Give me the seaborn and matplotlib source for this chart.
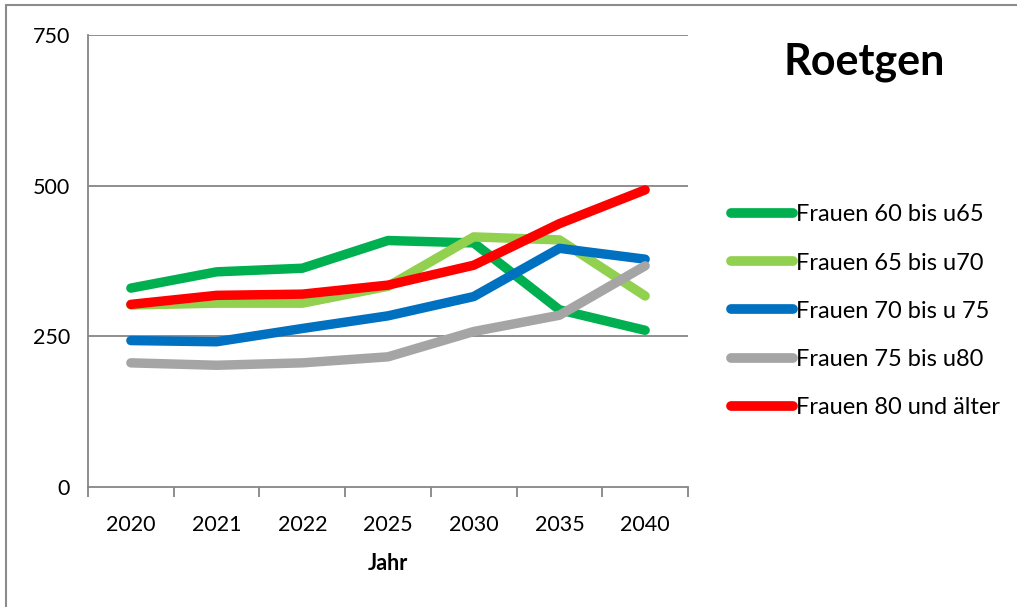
import matplotlib
matplotlib.use("Agg")
import matplotlib.pyplot as plt
import seaborn as sns
import pandas as pd
import numpy as np
from matplotlib.patches import Rectangle

years = ["2020", "2021", "2022", "2025", "2030", "2035", "2040"]
series_names = [
    "Frauen 60 bis u65",
    "Frauen 65 bis u70",
    "Frauen 70 bis u 75",
    "Frauen 75 bis u80",
    "Frauen 80 und älter",
]
f60 = [330, 357, 363, 409, 405, 294, 260]
f65 = [302, 305, 305, 333, 415, 410, 317]
f70 = [243, 241, 263, 284, 316, 396, 378]
f75 = [206, 202, 206, 216, 258, 285, 367]
f80 = [303, 318, 320, 335, 368, 437, 493]
colors = ["#00B050", "#92D050", "#0070C0", "#A5A5A5", "#FF0000"]
yticks = [0, 250, 500, 750]

rows = []
for name, vals in zip(series_names, [f60, f65, f70, f75, f80]):
    for i, v in enumerate(vals):
        rows.append({"pos": i, "Jahr": years[i], "Anzahl": v, "Gruppe": name})
df = pd.DataFrame(rows)

sns.set_theme(style="white")
plt.rcParams["font.family"] = ["Lato", "DejaVu Sans"]
plt.rcParams["text.color"] = "black"
plt.rcParams["xtick.color"] = "black"
plt.rcParams["ytick.color"] = "black"
plt.rcParams["axes.labelcolor"] = "black"

fig = plt.figure(figsize=(10.17, 6.07), dpi=100)
ax = fig.add_axes([88 / 1017, 1 - 487 / 607, 600 / 1017, 452 / 607])

# outer chart frame
fig.patches.append(Rectangle((6 / 1017, -0.05), 1.2, (607 - 5) / 607 + 0.05,
                             transform=fig.transFigure, fill=False,
                             edgecolor="#8C8C8C", linewidth=1.5, zorder=0))

grid_c = "#868686"
for t in yticks[1:]:
    ax.axhline(t, color=grid_c, linewidth=1.3, zorder=1)

sns.lineplot(data=df, x="pos", y="Anzahl", hue="Gruppe", hue_order=series_names,
             palette=colors, linewidth=6.8, ax=ax, sort=False, legend=True,
             solid_capstyle="round", solid_joinstyle="round", zorder=3)

ax.set_xlim(-0.5, 6.5)
ax.set_ylim(0, 750)
ax.set_yticks(yticks)
ax.set_yticklabels([str(t) for t in yticks], fontsize=15.5)
ax.set_xticks(range(len(years)))
ax.set_xticklabels(years, fontsize=15.5)
ax.tick_params(axis="x", which="major", length=0, pad=20)
ax.tick_params(axis="y", which="major", length=0, pad=13)
# category boundary ticks
ax.set_xticks(np.arange(-0.5, 7.0, 1.0), minor=True)
ax.tick_params(axis="x", which="minor", bottom=True, length=7, width=1.3,
               color=grid_c, direction="out")
ax.set_yticks(yticks, minor=True)
ax.tick_params(axis="y", which="minor", left=True, length=8, width=1.3,
               color=grid_c, direction="out")

for s in ["top", "right"]:
    ax.spines[s].set_visible(False)
for s in ["left", "bottom"]:
    ax.spines[s].set_color(grid_c)
    ax.spines[s].set_linewidth(1.3)

ax.set_xlabel("Jahr", fontsize=15.5, fontweight="bold", labelpad=13)
ax.set_ylabel("")

leg = ax.legend(loc="upper left", bbox_to_anchor=(722 / 1017, 1 - 195 / 607),
                bbox_transform=fig.transFigure, frameon=False, fontsize=17,
                handlelength=2.6, handletextpad=0.12, labelspacing=1.15,
                borderaxespad=0)
for h in leg.get_lines():
    h.set_linewidth(7)
    h.set_solid_capstyle("round")

fig.text(864 / 1017, 1 - 62 / 607, "Roetgen", fontsize=31, fontweight="bold",
         ha="center", va="center")

fig.savefig("out.png", dpi=100, facecolor="white")
